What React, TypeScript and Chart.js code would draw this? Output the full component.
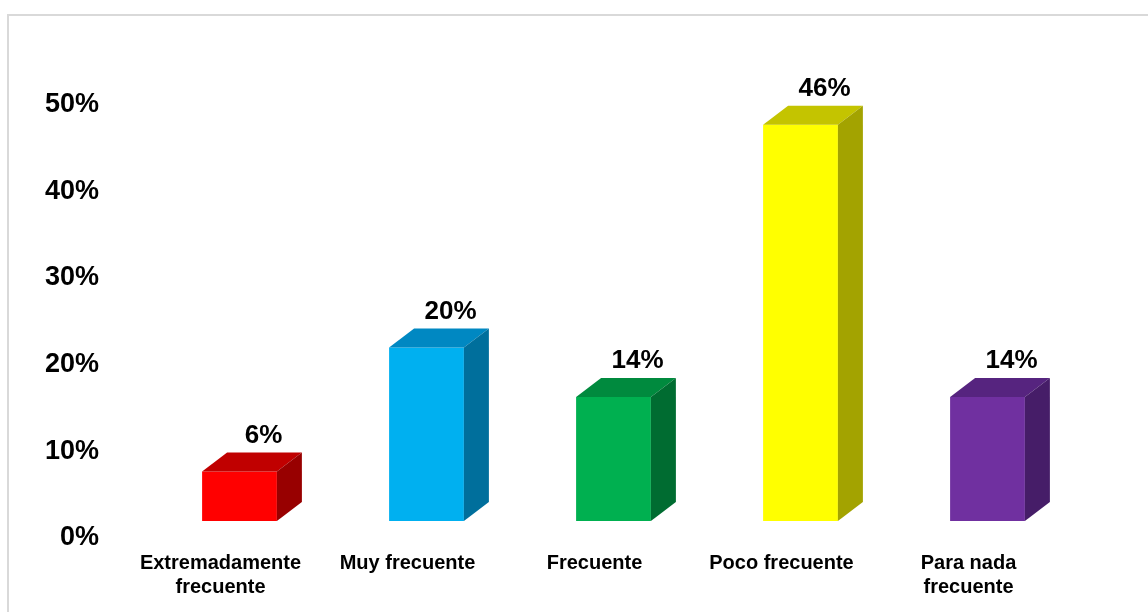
import React, { useEffect, useRef } from "react";
import { Chart, registerables } from "chart.js";

Chart.register(...registerables);

const categories: (string | string[])[] = [
  ["Extremadamente", "frecuente"],
  "Muy frecuente",
  "Frecuente",
  "Poco frecuente",
  ["Para nada", "frecuente"],
];
const values = [5.7, 20, 14.3, 45.7, 14.3];
const frontColors = ["#ff0000", "#00b0f0", "#00b050", "#ffff00", "#7030a0"];
const topColors = ["#c00000", "#0088c2", "#008a3e", "#c4c400", "#56247f"];
const sideColors = ["#980000", "#006f9c", "#006c31", "#a3a300", "#461d68"];
const yTicks = [0, 10, 20, 30, 40, 50];

const FONT = "'Liberation Sans', Arial, Helvetica, sans-serif";
const DX = 25;
const DY = 19;

const bars3d = {
  id: "bars3d",
  afterDatasetsDraw(chart: any) {
    const ctx = chart.ctx;
    const meta = chart.getDatasetMeta(0);
    meta.data.forEach((bar: any, i: number) => {
      const { x, y, width, base } = bar.getProps(["x", "y", "width", "base"], true);
      const l = x - width / 2;
      const r = x + width / 2;
      ctx.save();
      ctx.fillStyle = topColors[i];
      ctx.beginPath();
      ctx.moveTo(l, y);
      ctx.lineTo(l + DX, y - DY);
      ctx.lineTo(r + DX, y - DY);
      ctx.lineTo(r, y);
      ctx.closePath();
      ctx.fill();
      ctx.fillStyle = sideColors[i];
      ctx.beginPath();
      ctx.moveTo(r, y);
      ctx.lineTo(r + DX, y - DY);
      ctx.lineTo(r + DX, base - DY);
      ctx.lineTo(r, base);
      ctx.closePath();
      ctx.fill();
      ctx.fillStyle = "#000000";
      ctx.font = `bold 26px ${FONT}`;
      ctx.textAlign = "center";
      ctx.textBaseline = "middle";
      ctx.fillText(Math.round(values[i]) + "%", x + 24, y - 36);
      ctx.restore();
    });
  },
};

export default function App() {
  const ref = useRef<HTMLCanvasElement>(null);
  useEffect(() => {
    if (!ref.current) return;
    const chart = new Chart(ref.current, {
      type: "bar",
      data: {
        labels: categories as any,
        datasets: [
          {
            data: values,
            backgroundColor: frontColors,
            borderWidth: 0,
            categoryPercentage: 1,
            barPercentage: 0.4,
          },
        ],
      },
      options: {
        responsive: false,
        animation: false,
        layout: { padding: { top: 87.5, right: 67, bottom: 0, left: 0 } },
        plugins: { legend: { display: false }, tooltip: { enabled: false } },
        scales: {
          x: {
            grid: { display: false },
            border: { display: false },
            ticks: {
              color: "#000000",
              font: { family: FONT, size: 20, weight: "bold" },
              padding: 22,
              labelOffset: -19,
              maxRotation: 0,
              autoSkip: false,
            },
            afterFit: (s: any) => {
              s.height = 91;
            },
          },
          y: {
            min: 0,
            max: 50,
            grid: { display: false },
            border: { display: false },
            afterBuildTicks: (s: any) => {
              s.ticks = yTicks.map((v) => ({ value: v }));
            },
            ticks: {
              color: "#000000",
              font: { family: FONT, size: 27, weight: "bold" },
              padding: 39,
              labelOffset: 17,
              callback: (v: any) => v + "%",
            },
            afterFit: (s: any) => {
              s.width = 146;
            },
          },
        },
      },
      plugins: [bars3d],
    });
    return () => chart.destroy();
  }, []);

  return (
    <div
      style={{
        position: "fixed",
        left: 0,
        top: 0,
        width: 1148,
        height: 612,
        overflow: "hidden",
        background: "#ffffff",
      }}
    >
      <div
        style={{
          position: "absolute",
          left: 7,
          top: 14,
          width: 1200,
          height: 700,
          border: "2px solid #d9d9d9",
          boxSizing: "border-box",
        }}
      />
      <canvas
        ref={ref}
        width={1148}
        height={612}
        style={{ position: "absolute", left: 0, top: 0 }}
      />
    </div>
  );
}
